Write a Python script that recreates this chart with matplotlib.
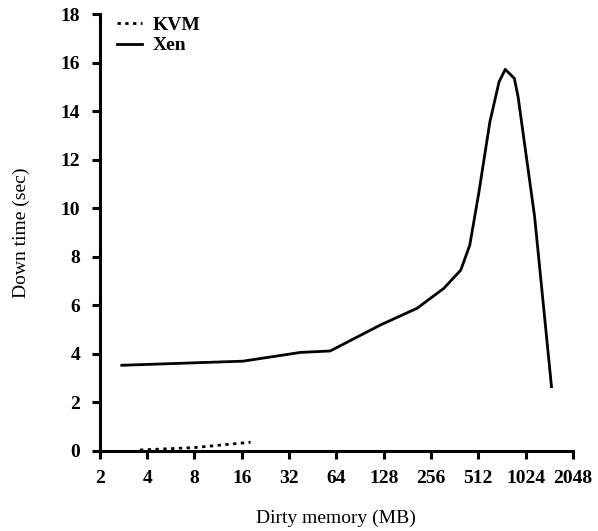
import matplotlib
matplotlib.use("Agg")
import matplotlib.pyplot as plt

xen_x = [2.76, 16.3, 37.8, 58.5, 122, 209, 309, 396, 452, 515, 607, 694, 760, 868, 917, 1169, 1497]
xen_y = [3.53, 3.70, 4.06, 4.12, 5.19, 5.88, 6.70, 7.45, 8.48, 10.6, 13.56, 15.2, 15.72, 15.35, 14.6, 9.65, 2.65]

kvm_x = [3.6, 8, 18.2]
kvm_y = [0.04, 0.14, 0.36]

xticks = [2, 4, 8, 16, 32, 64, 128, 256, 512, 1024, 2048]
yticks = [0, 2, 4, 6, 8, 10, 12, 14, 16, 18]

plt.rcParams['font.family'] = ['Liberation Serif', 'DejaVu Serif']

fig = plt.figure(figsize=(5.98, 5.31), dpi=100)
ax = fig.add_axes([0.167, 0.1507, 0.791, 0.8229])

ax.plot(kvm_x, kvm_y, color='black', linestyle=(0, (1.2, 1.6)), linewidth=2.0, label='KVM')
ax.plot(xen_x, xen_y, color='black', linestyle='-', linewidth=2.0, label='Xen')

ax.set_xscale('log', base=2)
ax.set_xlim(2, 2048)
ax.set_ylim(0, 18)
ax.set_xticks(xticks)
ax.set_xticklabels([str(v) for v in xticks])
ax.minorticks_off()
ax.set_yticks(yticks)
ax.set_yticklabels([str(v) for v in yticks])

for s in ['top', 'right']:
    ax.spines[s].set_visible(False)
for s in ['left', 'bottom']:
    ax.spines[s].set_linewidth(2.2)

ax.tick_params(axis='both', direction='out', length=6, width=2.2, labelsize=14, pad=8)
for lbl in ax.get_xticklabels() + ax.get_yticklabels():
    lbl.set_fontweight('bold')

ax.set_xlabel('Dirty memory (MB)', fontsize=14, labelpad=16)
ax.set_ylabel('Down time (sec)', fontsize=14, labelpad=22)

leg = ax.legend(loc='upper left', bbox_to_anchor=(0.0, 1.035), frameon=False,
                handlelength=1.25, handletextpad=0.55, labelspacing=0.15,
                prop={'size': 14, 'weight': 'bold'})

fig.savefig('out.png', dpi=100)
